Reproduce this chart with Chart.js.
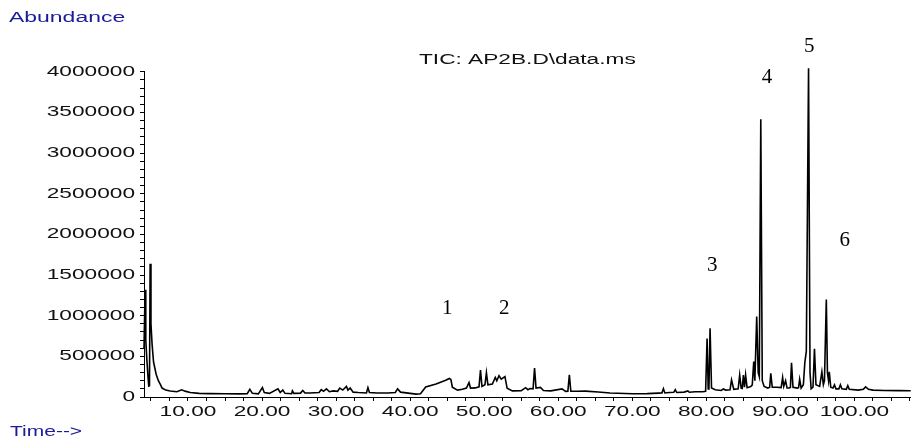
<!DOCTYPE html>
<html>
<head>
<meta charset="utf-8">
<script src="https://cdn.jsdelivr.net/npm/chart.js@4/dist/chart.umd.min.js"></script>
<style>
  body { margin: 0; background: #fff; }
  canvas { display: block; }
</style>
</head>
<body>
<canvas id="tic" width="913" height="440"></canvas>
<script>
// retention time (min) and abundance
var times = [
  4.06, 4.21, 4.3, 4.45, 4.6, 4.7, 4.8, 4.89, 5.0, 5.15, 5.35, 5.7, 6.0, 6.3, 6.5, 7.0, 7.6, 8.5, 9.15, 9.6,
  10.3, 11.5, 13.0, 15.0, 17.0, 18.0, 18.35, 18.7, 19.5, 20.05, 20.3, 21.0, 22.15, 22.45, 22.8, 23.1,
  24.0, 24.1, 24.3, 25.2, 25.5, 25.8, 26.5, 27.7, 28.0, 28.3, 28.7, 29.1, 29.6, 30.2, 30.5, 30.9, 31.4, 31.6,
  31.9, 32.3, 33.0, 34.1, 34.3, 34.5, 35.5, 37.0, 38.0, 38.3, 38.7, 40.0, 40.8, 41.4, 42.1, 43.5, 44.8, 45.3,
  45.5, 45.7, 46.4, 47.05, 47.6, 47.95, 48.15, 48.8, 49.3, 49.5, 49.7, 50.1, 50.3, 50.5, 51.1, 51.5, 51.7,
  52.0, 52.3, 52.8, 53.1, 53.8, 55.0, 55.6, 55.9, 56.2, 56.6, 56.8, 57.0, 57.6, 58.0, 59.0, 60.5, 61.0,
  61.3, 61.5, 61.7, 62.5, 63.7, 65.4, 67.0, 70.0, 72.0, 73.5, 74.0, 74.2, 74.4, 75.0, 75.6, 75.8, 76.0,
  77.0, 77.5, 77.7, 78.5, 79.5, 79.9, 80.1, 80.25, 80.35, 80.5, 80.7, 81.2, 82.0, 82.3, 82.6, 83.2, 83.4,
  83.7, 84.3, 84.5, 84.7, 84.85, 85.0, 85.15, 85.3, 85.5, 86.0, 86.2, 86.4, 86.55, 86.8, 87.0, 87.15,
  87.35, 87.55, 87.8, 88.3, 88.55, 88.7, 88.9, 89.5, 90.1, 90.3, 90.45, 90.7, 90.9, 91.2, 91.35, 91.5,
  91.7, 92.3, 92.45, 92.6, 92.8, 93.1, 93.3, 93.5, 93.8, 94.0, 94.15, 94.4, 94.6, 94.8, 95.3, 95.6, 95.8,
  95.95, 96.2, 96.35, 96.5, 96.6, 96.8, 97.1, 97.3, 97.5, 97.9, 98.1, 98.3, 98.9, 99.1, 99.3, 100.5,
  101.2, 101.5, 101.9, 102.5, 104.0, 106.0, 107.6
];
var abundance = [
  600000, 1320000, 700000, 450000, 250000, 136000, 140000, 1640000, 900000, 650000, 430000, 280000, 200000, 150000, 110000, 85000, 74000, 65000, 88000, 72000,
  55000, 45000, 42000, 40000, 38000, 40000, 95000, 45000, 38000, 116000, 55000, 45000, 100000, 55000, 85000, 45000,
  40000, 75000, 45000, 48000, 80000, 50000, 50000, 55000, 90000, 70000, 100000, 65000, 75000, 70000, 110000, 85000, 130000, 85000,
  110000, 60000, 55000, 50000, 115000, 55000, 50000, 50000, 55000, 100000, 60000, 45000, 35000, 40000, 124000, 160000, 206000, 228000,
  215000, 120000, 85000, 95000, 110000, 177000, 110000, 112000, 125000, 330000, 130000, 150000, 300000, 150000, 160000, 240000, 200000,
  262000, 220000, 250000, 107000, 75000, 78000, 115000, 90000, 105000, 100000, 355000, 110000, 118000, 80000, 75000, 100000, 70000,
  72000, 272000, 70000, 70000, 72000, 62000, 50000, 40000, 42000, 48000, 50000, 103000, 50000, 55000, 58000, 90000, 55000,
  60000, 75000, 58000, 65000, 65000, 70000, 720000, 100000, 110000, 845000, 110000, 90000, 80000, 98000, 85000, 90000, 210000,
  95000, 100000, 270000, 110000, 105000, 270000, 120000, 270000, 115000, 130000, 150000, 437000, 200000, 990000, 300000, 250000,
  3415000, 200000, 130000, 110000, 120000, 290000, 120000, 120000, 115000, 240000, 130000, 200000, 110000, 110000, 120000, 420000,
  120000, 110000, 115000, 220000, 110000, 150000, 425000, 560000, 4045000, 300000, 100000, 120000, 594000, 150000, 130000, 310000, 150000,
  200000, 1200000, 300000, 200000, 310000, 120000, 110000, 150000, 100000, 100000, 150000, 100000, 95000, 140000, 95000, 85000,
  95000, 125000, 95000, 85000, 80000, 78000, 76000
];

var xMajorTicks = [10, 20, 30, 40, 50, 60, 70, 80, 90, 100];
var yMajorTicks = [0, 500000, 1000000, 1500000, 2000000, 2500000, 3000000, 3500000, 4000000];

// numbered peaks, placed in data units
var peakNames = ["1", "2", "3", "4", "5", "6"];
var peakTimes = [45.0, 52.7, 80.8, 88.2, 93.9, 98.7];
var peakLevels = [1091000, 1091000, 1621000, 3926000, 4310000, 1929000];

var points = times.map(function (t, i) {
  return { x: t, y: abundance[i] };
});

var textFont = "'Liberation Sans', Arial, sans-serif";

// the original print has horizontally stretched lettering
var canvas = document.getElementById("tic");
var ctx = canvas.getContext("2d");
var plainFill = ctx.fillText.bind(ctx);
var stretchX = 1.62;
ctx.fillText = function (text, x, y) {
  if (stretchX === 1) return plainFill(text, x, y);
  ctx.save();
  ctx.translate(x, y);
  ctx.scale(stretchX, 1);
  plainFill(text, 0, 0);
  ctx.restore();
};

var labelsPlugin = {
  id: "labels",
  afterDatasetsDraw: function (chart) {
    var c = chart.ctx;
    var xs = chart.scales.x;
    var ys = chart.scales.y;
    c.save();
    stretchX = 1;
    c.fillStyle = "#000";
    c.font = "21px 'Liberation Serif', serif";
    c.textAlign = "center";
    c.textBaseline = "middle";
    for (var i = 0; i < peakNames.length; i++) {
      c.fillText(peakNames[i], xs.getPixelForValue(peakTimes[i]), ys.getPixelForValue(peakLevels[i]));
    }
    stretchX = 1.62;
    c.restore();
  },
  afterDraw: function (chart) {
    var c = chart.ctx;
    c.save();
    c.fillStyle = "#1c1c96";
    c.font = "14px " + textFont;
    c.textAlign = "left";
    c.textBaseline = "middle";
    stretchX = 1.64;
    c.fillText("Abundance", 9, 18);
    stretchX = 1.5;
    c.fillText("Time-->", 10, 432);
    stretchX = 1.62;
    c.restore();
  },
};

new Chart(canvas, {
  type: "line",
  data: {
    datasets: [
      {
        data: points,
        borderColor: "#000",
        borderWidth: 1.6,
        pointRadius: 0,
        tension: 0,
        fill: false,
        clip: false,
      },
    ],
  },
  options: {
    responsive: false,
    animation: false,
    layout: { padding: 0 },
    plugins: {
      legend: { display: false },
      tooltip: { enabled: false },
      title: {
        display: true,
        text: "TIC: AP2B.D\\data.ms",
        fullSize: false,
        color: "#111",
        font: { family: textFont, size: 14, weight: "normal" },
        padding: { top: 52, bottom: 3 },
      },
    },
    scales: {
      x: {
        type: "linear",
        min: 4.06,
        max: 107.6,
        afterBuildTicks: function (scale) {
          var ticks = [];
          for (var v = 5; v <= 107.5; v += 2.5) ticks.push({ value: v });
          scale.ticks = ticks;
        },
        afterFit: function (scale) { scale.height = 43; },
        border: { display: true, color: "#000", width: 1 },
        grid: { drawOnChartArea: false, tickLength: 4, color: "#000" },
        ticks: {
          autoSkip: false,
          maxRotation: 0,
          padding: 3,
          color: "#111",
          font: { family: textFont, size: 14 },
          callback: function (value) {
            return xMajorTicks.indexOf(value) >= 0 ? value.toFixed(2) : "";
          },
        },
      },
      y: {
        min: 0,
        max: 4000000,
        afterBuildTicks: function (scale) {
          var ticks = [];
          for (var v = 0; v <= 4000000; v += 100000) ticks.push({ value: v });
          scale.ticks = ticks;
        },
        afterFit: function (scale) { scale.width = 144; },
        border: { display: true, color: "#000", width: 1 },
        grid: { drawOnChartArea: false, tickLength: 4, color: "#000" },
        ticks: {
          autoSkip: false,
          padding: 5,
          color: "#111",
          font: { family: textFont, size: 14 },
          callback: function (value) {
            return yMajorTicks.indexOf(value) >= 0 ? String(value) : "";
          },
        },
      },
    },
  },
  plugins: [labelsPlugin],
});
</script>
</body>
</html>
